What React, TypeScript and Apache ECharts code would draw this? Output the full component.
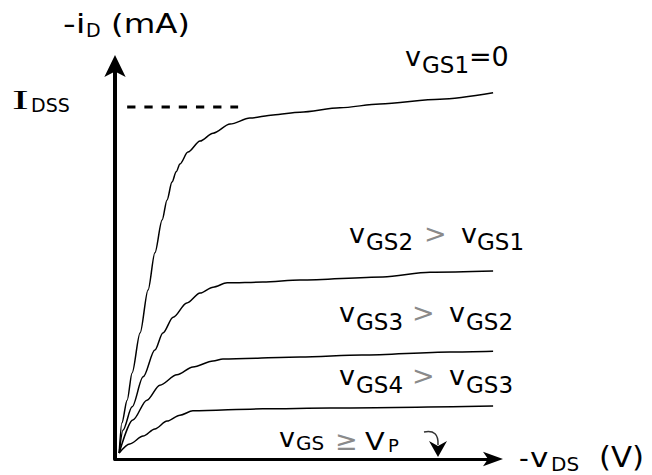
import React, { useEffect, useRef } from "react";
import * as echarts from "echarts";

// Output characteristics of a p-channel JFET: -iD (mA) against -vDS (V)
// Each curve is a list of [-vDS, -iD] points.
const curveVgs1 = [
  [0.11, 0.15], [0.18, 0.91], [0.32, 1.49], [0.45, 2.18], [0.66, 3.19],
  [0.87, 4.28], [1.05, 5.22], [1.24, 6.05], [1.37, 6.56], [1.5, 7.01],
  [1.61, 7.27], [1.71, 7.47], [1.92, 7.77], [2.24, 8.05], [2.58, 8.25],
  [3.03, 8.48], [3.55, 8.63], [4.16, 8.71], [4.87, 8.78], [5.92, 8.89],
  [6.97, 8.99], [8.55, 9.11], [9.95, 9.27],
];
const curveVgs2 = [
  [0.11, 0.15], [0.21, 0.73], [0.45, 1.32], [0.74, 2.08], [1.05, 2.76],
  [1.26, 3.19], [1.53, 3.59], [1.89, 3.95], [2.24, 4.2], [2.58, 4.35],
  [2.95, 4.46], [3.89, 4.48], [4.87, 4.53], [7.05, 4.61], [8.29, 4.73],
  [9.95, 4.76],
];
const curveVgs3 = [
  [0.11, 0.15], [0.47, 0.99], [0.84, 1.49], [1.18, 1.87], [1.63, 2.13],
  [2.05, 2.33], [2.58, 2.48], [2.84, 2.53], [4.87, 2.58], [6.5, 2.63],
  [8.82, 2.71], [9.95, 2.73],
];
const curveVgs4 = [
  [0.11, 0.15], [0.39, 0.38], [0.74, 0.58], [1.05, 0.76], [1.37, 0.96],
  [1.71, 1.11], [2.05, 1.22], [3.89, 1.27], [5.66, 1.29], [9.95, 1.34],
];
// Saturation current level and the span of its dashed marker
const idssLevel = 8.91;
const idssSpan = [0.32, 3.24];

const AXIS_MAX_X = 10;
const AXIS_MAX_Y = 10;

const SANS = '"DejaVu Sans", Verdana, sans-serif';
const SERIF = '"Liberation Serif", "Times New Roman", serif';

// text piece placed by its left edge and baseline
function txt(
  text: string,
  x: number,
  baseline: number,
  size: number,
  opts: { family?: string; fill?: string; scaleX?: number } = {}
) {
  const y = baseline - 0.35 * size;
  return {
    type: "text",
    x,
    y,
    scaleX: opts.scaleX ?? 1,
    silent: true,
    style: {
      text,
      x: 0,
      y: 0,
      font: `${size}px ${opts.family ?? SANS}`,
      fill: opts.fill ?? "#000",
      align: "left",
      verticalAlign: "middle",
      textAlign: "left",
      textVerticalAlign: "middle",
    },
  };
}

const GRAY = "#8a8a8a";

function curveSeries(data: number[][]) {
  return {
    type: "line",
    data,
    showSymbol: false,
    silent: true,
    smooth: 0.3,
    smoothMonotone: "x",
    lineStyle: { color: "#000", width: 1.5 },
  };
}

export default function App() {
  const ref = useRef<HTMLDivElement>(null);

  useEffect(() => {
    if (!ref.current) return;
    const chart = echarts.init(ref.current, null, { renderer: "svg" });

    const labels = [
      // vertical axis title
      txt("-i", 63, 33, 27, { scaleX: 1.3 }),
      txt("D", 86, 37, 19),
      txt("(mA)", 111, 33, 27, { scaleX: 1.2 }),
      // IDSS
      txt("I", 12, 110, 28, { family: SERIF, scaleX: 1.8 }),
      txt("DSS", 31, 112, 19),
      // vGS1 = 0
      txt("v", 405, 66, 27),
      txt("GS1", 422, 73, 23),
      txt("=0", 469, 66, 27),
      // vGS2 > vGS1
      txt("v", 349, 243, 27),
      txt("GS2", 366, 250, 23),
      txt(">", 424, 243, 27, { fill: GRAY }),
      txt("v", 461, 243, 27),
      txt("GS1", 477, 250, 23),
      // vGS3 > vGS2
      txt("v", 339, 322, 27),
      txt("GS3", 356, 330, 23),
      txt(">", 412, 322, 27, { fill: GRAY }),
      txt("v", 449, 322, 27),
      txt("GS2", 466, 330, 23),
      // vGS4 > vGS3
      txt("v", 339, 385, 27),
      txt("GS4", 356, 393, 23),
      txt(">", 412, 385, 27, { fill: GRAY }),
      txt("v", 449, 385, 27),
      txt("GS3", 466, 393, 23),
      // vGS >= VP
      txt("v", 279, 447, 27),
      txt("GS", 296, 450, 20),
      txt("\u2265", 335, 450, 27, { fill: GRAY }),
      txt("V", 365, 450, 24, { scaleX: 1.2 }),
      txt("P", 388, 452, 18),
      // horizontal axis title
      txt("-", 519, 467, 27),
      txt("v", 530, 467, 27, { scaleX: 1.15 }),
      txt("DS", 551, 471, 20),
      txt("(V)", 599, 467, 28, { scaleX: 1.1 }),
    ];

    chart.setOption({
      animation: false,
      backgroundColor: "#fff",
      grid: { left: 115, right: 157, top: 64, bottom: 16 },
      xAxis: {
        type: "value",
        min: 0,
        max: AXIS_MAX_X,
        axisLine: {
          show: true,
          onZero: false,
          symbol: ["none", "arrow"],
          symbolSize: [11, 20],
          symbolOffset: [0, 8],
          lineStyle: { color: "#000", width: 3 },
        },
        axisTick: { show: false },
        axisLabel: { show: false },
        splitLine: { show: false },
      },
      yAxis: {
        type: "value",
        min: 0,
        max: AXIS_MAX_Y,
        axisLine: {
          show: true,
          onZero: false,
          symbol: ["none", "arrow"],
          symbolSize: [16, 22],
          symbolOffset: [0, 9],
          lineStyle: { color: "#000", width: 4 },
        },
        axisTick: { show: false },
        axisLabel: { show: false },
        splitLine: { show: false },
      },
      series: [
        curveSeries(curveVgs1),
        curveSeries(curveVgs2),
        curveSeries(curveVgs3),
        curveSeries(curveVgs4),
        {
          type: "line",
          data: [
            [idssSpan[0], idssLevel],
            [idssSpan[1], idssLevel],
          ],
          showSymbol: false,
          silent: true,
          lineStyle: { color: "#000", width: 3, type: [8.3, 8.9] },
        },
      ],
      graphic: {
        elements: [
          ...labels,
          // small curved pointer from the vGS >= VP label down to the axis
          {
            type: "bezierCurve",
            silent: true,
            shape: { x1: 424, y1: 432, x2: 438, y2: 445, cpx1: 439, cpy1: 429 },
            style: { stroke: "#333", lineWidth: 1.5, fill: "none" },
          },
          {
            type: "polygon",
            silent: true,
            shape: {
              points: [
                [429, 441],
                [438, 446],
                [447, 441],
                [438, 457],
              ],
            },
            style: { fill: "#000" },
          },
        ],
      },
    });

    return () => chart.dispose();
  }, []);

  return (
    <div
      ref={ref}
      style={{
        position: "fixed",
        left: 0,
        top: 0,
        width: 652,
        height: 475,
        background: "#fff",
      }}
    />
  );
}
